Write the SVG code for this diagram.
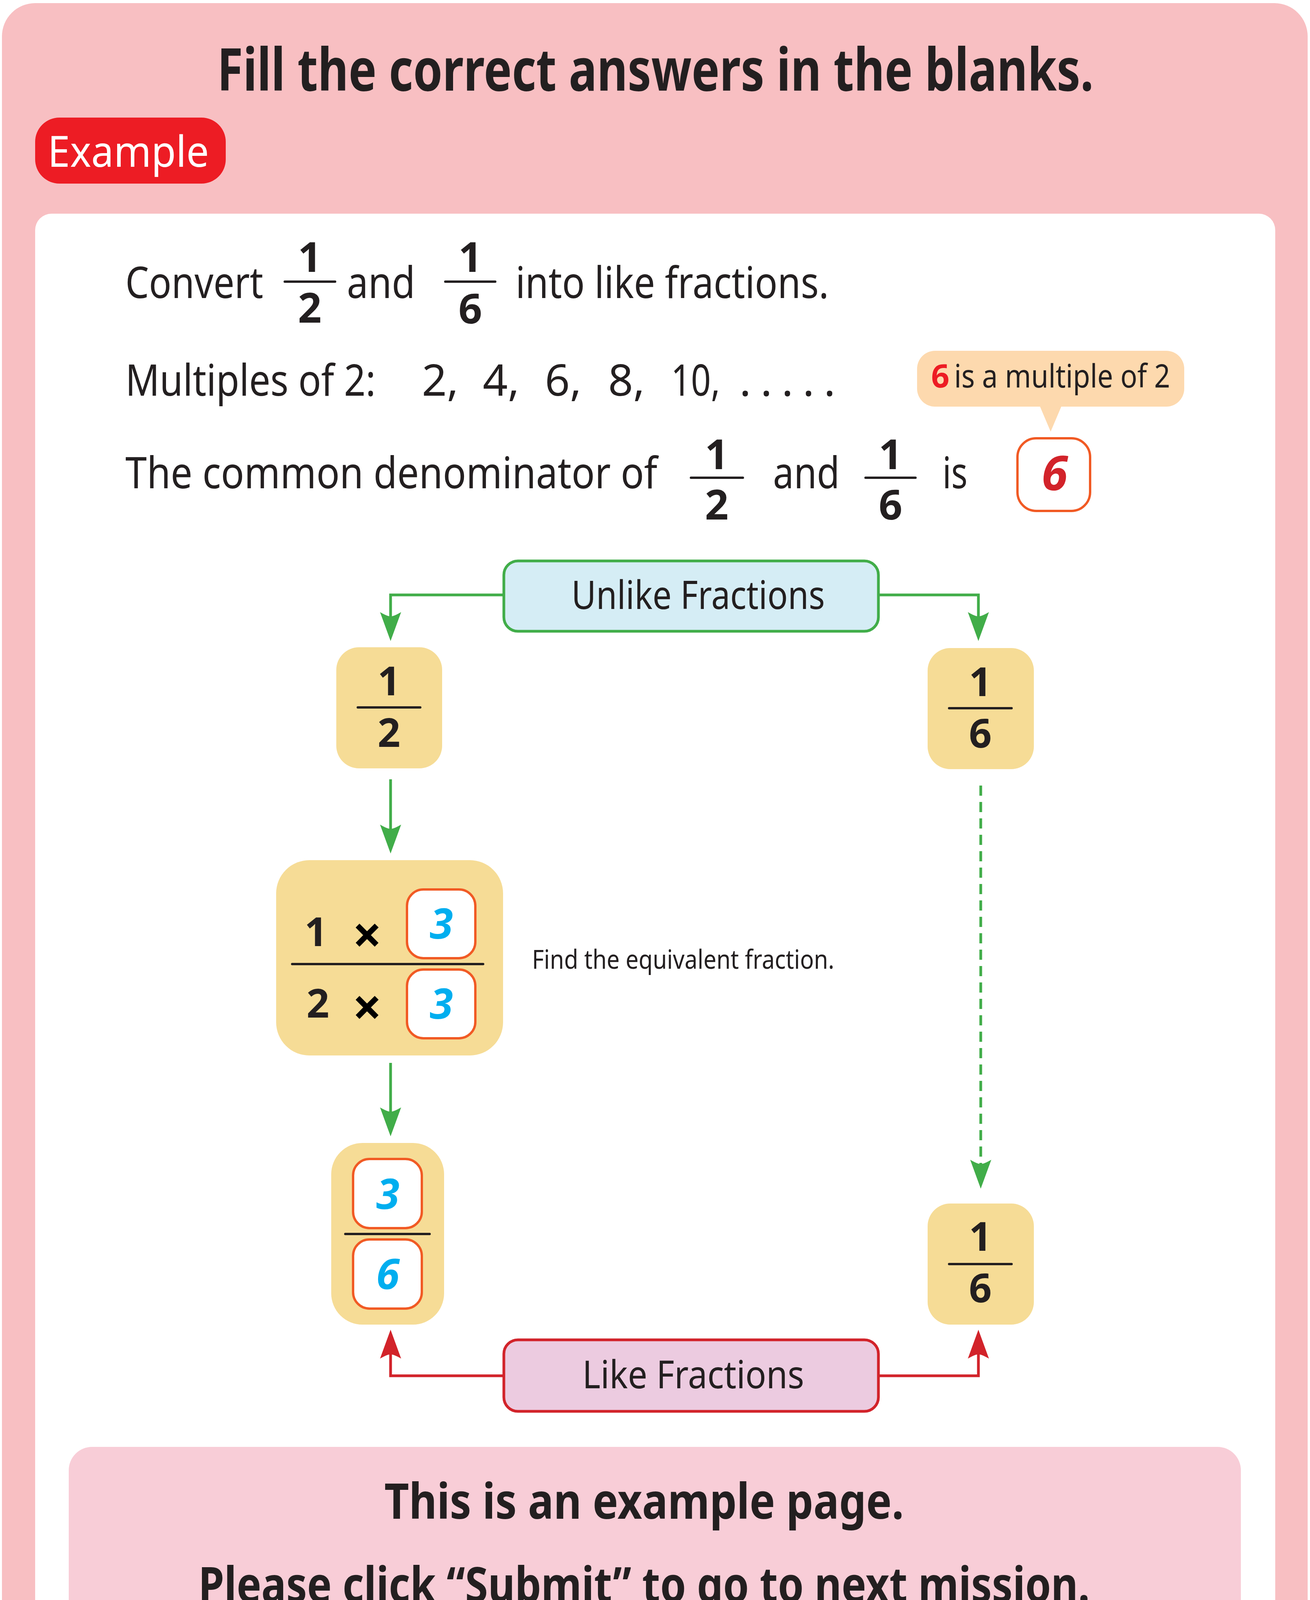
<svg xmlns="http://www.w3.org/2000/svg" width="3354" height="4402" viewBox="0 0 3354 4402">
<style>
text{font-family:"Noto Sans","Liberation Sans",sans-serif;fill:#231F20}
.b{font-weight:700}
.body{font-size:112px}
.fr{font-size:106px;font-weight:700;text-anchor:middle}
.nd{font-size:102px;font-weight:700;text-anchor:middle}
.mul{font-size:132px;font-weight:700;text-anchor:middle;fill:#000000}
.ans{font-size:108px;font-weight:700;font-style:italic;text-anchor:middle;fill:#00AEEF}
.bar{stroke:#231F20;stroke-width:6;stroke-linecap:round}
.node{fill:#F6DC96}
.abox{fill:#FFFFFF;stroke:#F15A24;stroke-width:6}
.gl{fill:none;stroke:#41AD49;stroke-width:7}
.rl{fill:none;stroke:#D2232A;stroke-width:7}
</style>
<defs>
<marker id="ag" markerUnits="userSpaceOnUse" viewBox="-12 -28 76 56" markerWidth="76" markerHeight="56" refX="0" refY="0" orient="auto" overflow="visible">
<path d="M63,0 L-11,-27 Q0,-8 0,0 Q0,8 -11,27 Z" fill="#41AD49"/>
</marker>
<marker id="ar" markerUnits="userSpaceOnUse" viewBox="-12 -28 76 56" markerWidth="76" markerHeight="56" refX="0" refY="0" orient="auto" overflow="visible">
<path d="M63,0 L-11,-27 Q0,-8 0,0 Q0,8 -11,27 Z" fill="#D2232A"/>
</marker>
</defs>
<rect x="0" y="0" width="3354" height="4402" fill="#FFFFFF"/>
<rect x="5" y="8" width="3343" height="4384" rx="85" fill="#F8BFC2"/>
<g id="title">
<text class="b" x="556" y="232" font-size="150" textLength="2244" lengthAdjust="spacingAndGlyphs">Fill the correct answers in the blanks.</text>
</g>
<g id="example-tag">
<rect x="90" y="301" width="488" height="169" rx="62" fill="#ED1C24"/>
<text x="122" y="427" font-size="110" textLength="413" lengthAdjust="spacingAndGlyphs" style="fill:#FFFFFF">Example</text>
</g>
<rect x="90" y="547" width="3175" height="3740" rx="42" fill="#FFFFFF"/>
<g id="line1">
<text class="body" x="321" y="763" textLength="353" lengthAdjust="spacingAndGlyphs">Convert</text>
<text class="fr" x="793" y="696">1</text>
<line class="bar" x1="729" y1="721" x2="858" y2="721"/>
<text class="fr" x="793" y="826">2</text>
<text class="body" x="888" y="763" textLength="175" lengthAdjust="spacingAndGlyphs">and</text>
<text class="fr" x="1204" y="696">1</text>
<line class="bar" x1="1140" y1="721" x2="1268" y2="721"/>
<text class="fr" x="1204" y="828">6</text>
<text class="body" x="1320" y="763" textLength="802" lengthAdjust="spacingAndGlyphs">into like fractions.</text>
</g>
<g id="line2">
<text class="body" x="321" y="1013" textLength="641" lengthAdjust="spacingAndGlyphs">Multiples of 2:</text>
<text class="body" x="1080" y="1013">2,</text>
<text class="body" x="1236" y="1013">4,</text>
<text class="body" x="1395" y="1013">6,</text>
<text class="body" x="1557" y="1013">8,</text>
<text class="body" x="1718" y="1013" textLength="126" lengthAdjust="spacingAndGlyphs">10,</text>
<text class="body" x="1893" y="1013" textLength="246" lengthAdjust="spacing">. . . . .</text>
</g>
<g id="callout">
<rect x="2348" y="898" width="684" height="143" rx="46" fill="#FDD9AE"/>
<path d="M2662,1039 L2718,1039 L2690,1105 Z" fill="#FDD9AE"/>
<text x="2384" y="992" font-size="82" font-weight="700" style="fill:#ED1C24">6</text>
<text x="2443" y="992" font-size="82" textLength="553" lengthAdjust="spacingAndGlyphs">is a multiple of 2</text>
</g>
<g id="line3">
<text class="body" x="321" y="1250" textLength="1362" lengthAdjust="spacingAndGlyphs">The common denominator of</text>
<text class="fr" x="1835" y="1201">1</text>
<line class="bar" x1="1769" y1="1223" x2="1902" y2="1223"/>
<text class="fr" x="1835" y="1330">2</text>
<text class="body" x="1979" y="1250" textLength="171" lengthAdjust="spacingAndGlyphs">and</text>
<text class="fr" x="2280" y="1201">1</text>
<line class="bar" x1="2216" y1="1223" x2="2344" y2="1223"/>
<text class="fr" x="2280" y="1330">6</text>
<text class="body" x="2413" y="1250" textLength="64" lengthAdjust="spacingAndGlyphs">is</text>
</g>
<g id="answer-box">
<rect class="abox" x="2605" y="1122" width="186" height="186" rx="48"/>
<text x="2700" y="1255" font-size="122" font-weight="700" font-style="italic" text-anchor="middle" style="fill:#D2232A">6</text>
</g>
<g id="connectors">
<polyline class="gl" points="1290,1523 1000,1523 1000,1578" marker-end="url(#ag)"/>
<polyline class="gl" points="2249,1523 2505,1523 2505,1578" marker-end="url(#ag)"/>
<line class="gl" x1="1000" y1="1995" x2="1000" y2="2122" marker-end="url(#ag)"/>
<line class="gl" x1="1000" y1="2721" x2="1000" y2="2846" marker-end="url(#ag)"/>
<line class="gl" x1="2511" y1="2011" x2="2511" y2="2980" stroke-dasharray="26 16" marker-end="url(#ag)"/>
<polyline class="rl" points="1290,3522 1000,3522 1000,3467" marker-end="url(#ar)"/>
<polyline class="rl" points="2249,3522 2505,3522 2505,3467" marker-end="url(#ar)"/>
</g>
<g id="unlike-fractions">
<rect x="1290" y="1436" width="959" height="180" rx="36" fill="#D5EDF5" stroke="#41AD49" stroke-width="7"/>
<text x="1463" y="1559" font-size="100" textLength="649" lengthAdjust="spacingAndGlyphs">Unlike Fractions</text>
</g>
<g id="node-half">
<rect class="node" x="861" y="1657" width="271" height="310" rx="58"/>
<text class="nd" x="996" y="1780">1</text>
<line class="bar" x1="916" y1="1811" x2="1076" y2="1811"/>
<text class="nd" x="996" y="1912">2</text>
</g>
<g id="node-sixth-top">
<rect class="node" x="2375" y="1659" width="272" height="310" rx="58"/>
<text class="nd" x="2510" y="1782">1</text>
<line class="bar" x1="2430" y1="1813" x2="2590" y2="1813"/>
<text class="nd" x="2510" y="1914">6</text>
</g>
<g id="node-multiply">
<rect class="node" x="707" y="2202" width="581" height="500" rx="85"/>
<text class="nd" x="809" y="2422">1</text>
<text class="mul" x="940" y="2441">×</text>
<rect class="abox" x="1042" y="2277" width="175" height="176" rx="42"/>
<text class="ans" x="1130" y="2403">3</text>
<line class="bar" x1="748" y1="2468" x2="1237" y2="2468"/>
<text class="nd" x="814" y="2605">2</text>
<text class="mul" x="940" y="2626">×</text>
<rect class="abox" x="1042" y="2482" width="175" height="176" rx="42"/>
<text class="ans" x="1130" y="2608">3</text>
</g>
<g id="hint">
<text x="1362" y="2480" font-size="68" textLength="774" lengthAdjust="spacingAndGlyphs">Find the equivalent fraction.</text>
</g>
<g id="node-three-sixths">
<rect class="node" x="848" y="2926" width="289" height="465" rx="80"/>
<rect class="abox" x="904" y="2967" width="176" height="177" rx="42"/>
<text class="ans" x="993" y="3095">3</text>
<line class="bar" x1="884" y1="3159" x2="1100" y2="3159"/>
<rect class="abox" x="904" y="3173" width="176" height="177" rx="42"/>
<text class="ans" x="993" y="3300">6</text>
</g>
<g id="node-sixth-bottom">
<rect class="node" x="2375" y="3081" width="272" height="310" rx="58"/>
<text class="nd" x="2510" y="3202">1</text>
<line class="bar" x1="2430" y1="3236" x2="2590" y2="3236"/>
<text class="nd" x="2510" y="3334">6</text>
</g>
<g id="like-fractions">
<rect x="1290" y="3430" width="959" height="183" rx="36" fill="#ECCBE0" stroke="#D2232A" stroke-width="7"/>
<text x="1491" y="3554" font-size="98" textLength="568" lengthAdjust="spacingAndGlyphs">Like Fractions</text>
</g>
<g id="notice">
<rect x="176" y="3704" width="3001" height="523" rx="60" fill="#F8CDD7"/>
<text class="b" x="984" y="3888" font-size="126" textLength="1330" lengthAdjust="spacingAndGlyphs">This is an example page.</text>
<text class="b" x="508" y="4102" font-size="126" textLength="2282" lengthAdjust="spacingAndGlyphs">Please click “Submit” to go to next mission.</text>
</g>
</svg>
